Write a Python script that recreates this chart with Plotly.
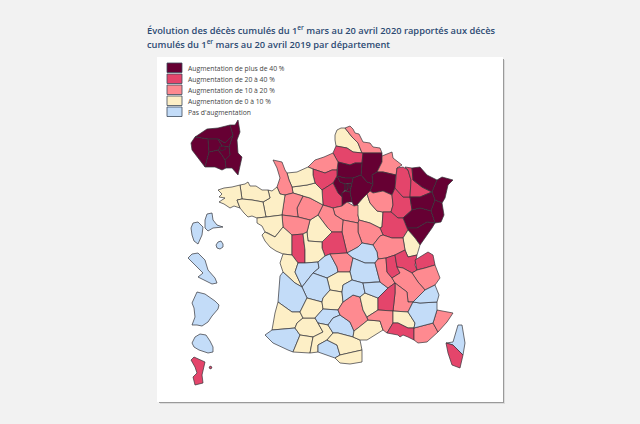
import plotly.graph_objects as go

# classes de la legende
class_labels = [
    "Augmentation de plus de 40 %",
    "Augmentation de 20 à 40 %",
    "Augmentation de 10 à 20 %",
    "Augmentation de 0 à 10 %",
    "Pas d'augmentation",
]
class_colors = ["#660033", "#e4456b", "#fe8a90", "#fdefc6", "#c3dcf8"]

title_lines = [
    "Évolution des décès cumulés du 1<sup>er</sup> mars au 20 avril 2020 rapportés aux décès",
    "cumulés du 1<sup>er</sup> mars au 20 avril 2019 par département",
]

# classe de chaque departement (indice dans class_labels)
dept_class = {
    "Pas-de-Calais": 3, "Nord": 2, "Somme": 1, "Aisne": 0, "Oise": 0, "Ardennes": 2,
    "Marne": 0, "Seine-et-Marne": 0, "Val-d'Oise": 0, "Yvelines": 0, "Essonne": 0,
    "Hauts-de-Seine": 0, "Seine-Saint-Denis": 0, "Val-de-Marne": 0, "Paris": 0,
    "Seine-Maritime": 2, "Eure": 1, "Eure-et-Loir": 1, "Loiret": 2, "Yonne": 3,
    "Aube": 2, "Haute-Marne": 1, "Meuse": 1, "Meurthe-et-Moselle": 1, "Moselle": 0,
    "Bas-Rhin": 0, "Vosges": 0, "Haut-Rhin": 0, "Haute-Saône": 0, "Doubs": 0,
    "Côte-d'Or": 1, "Jura": 3, "Nièvre": 2, "Saône-et-Loire": 2, "Cher": 2,
    "Loir-et-Cher": 2, "Indre": 1, "Indre-et-Loire": 3, "Sarthe": 2, "Orne": 3,
    "Calvados": 3, "Manche": 2, "Mayenne": 2, "Maine-et-Loire": 2,
    "Ille-et-Vilaine": 3, "Côtes-d'Armor": 3, "Finistère": 3, "Morbihan": 3,
    "Loire-Atlantique": 3, "Vendée": 3, "Deux-Sèvres": 1, "Vienne": 3,
    "Charente-Maritime": 3, "Charente": 4, "Haute-Vienne": 4, "Creuse": 2,
    "Allier": 4, "Puy-de-Dôme": 4, "Corrèze": 3, "Dordogne": 4, "Gironde": 4,
    "Landes": 3, "Pyrénées-Atlantiques": 4, "Gers": 3, "Hautes-Pyrénées": 3,
    "Lot-et-Garonne": 3, "Lot": 3, "Tarn-et-Garonne": 4, "Haute-Garonne": 3,
    "Tarn": 4, "Ariège": 4, "Aude": 3, "Pyrénées-Orientales": 3, "Aveyron": 2,
    "Cantal": 4, "Lozère": 3, "Haute-Loire": 4, "Loire": 2, "Rhône": 1, "Ain": 1,
    "Haute-Savoie": 1, "Savoie": 2, "Isère": 2, "Drôme": 2, "Ardèche": 1,
    "Hérault": 3, "Gard": 2, "Vaucluse": 3, "Bouches-du-Rhône": 1, "Var": 2,
    "Alpes-Maritimes": 2, "Alpes-de-Haute-Provence": 4, "Hautes-Alpes": 4,
    "Haute-Corse": 4, "Corse-du-Sud": 1, "Guadeloupe": 4, "Guadeloupe (est)": 4,
    "Guadeloupe (sud)": 4, "Martinique": 4, "Guyane": 4, "La Réunion": 4, "Mayotte": 1,
    "Mayotte (est)": 1, "Zoom Val-d'Oise": 0, "Zoom Seine-et-Marne": 0,
    "Zoom Yvelines": 0, "Zoom Essonne": 0, "Zoom Hauts-de-Seine": 0,
    "Zoom Seine-Saint-Denis": 0, "Zoom Val-de-Marne": 0, "Zoom Paris": 0,
}

# contours
outlines = {
    "Pas-de-Calais": [(337,130),(341,128),(345,128),(352,137),(358,143),(362,153),(353,152),(347,148),(336,146),(335,140),(335,135)],
    "Nord": [(345,128),(350,126),(353,129),(355,133),(359,134),(363,142),(370,143),(373,147),(380,148),(382,153),(363,153),(362,153),(358,143),(352,137)],
    "Somme": [(333,153),(336,146),(347,148),(353,152),(363,153),(362,163),(355,163),(350,165),(338,162)],
    "Aisne": [(362,163),(363,153),(382,153),(382,156),(382,162),(377,172),(372,175),(373,184),(367,182),(361,175)],
    "Oise": [(338,162),(350,165),(355,163),(362,163),(361,175),(353,178),(345,178),(337,176)],
    "Ardennes": [(382,156),(388,154),(392,152),(393,158),(402,165),(397,168),(396,175),(383,172),(377,172),(382,162)],
    "Marne": [(377,172),(383,172),(396,175),(395,188),(392,195),(383,191),(373,193),(370,191),(373,184),(372,175)],
    "Seine-et-Marne": [(361,175),(367,182),(373,184),(370,191),(367,194),(363,198),(357,205),(354,206),(352,202),(350,192),(352,183),(353,178)],
    "Val-d'Oise": [(337,176),(345,178),(353,178),(352,183),(345,184),(340,182)],
    "Yvelines": [(333,183),(337,176),(340,182),(345,184),(345,190),(342,193),(342,197),(338,193),(335,187)],
    "Essonne": [(342,197),(342,193),(345,191),(350,192),(352,202),(347,202),(342,206)],
    "Hauts-de-Seine": [(345,184),(348,184),(348,187),(347,190),(345,190)],
    "Seine-Saint-Denis": [(348,184),(352,183),(351,187),(348,187)],
    "Val-de-Marne": [(347,190),(348,187),(351,187),(350,192),(345,191)],
    "Paris": [(347,186),(350,186),(350,188),(347,188)],
    "Seine-Maritime": [(308,167),(312,163),(315,160),(324,157),(333,153),(338,162),(337,170),(332,170),(325,173),(313,169)],
    "Eure": [(313,169),(325,173),(332,170),(337,170),(337,176),(333,183),(330,185),(322,190),(315,183),(313,175)],
    "Eure-et-Loir": [(322,190),(330,185),(333,183),(335,187),(338,193),(342,197),(342,206),(333,208),(323,205)],
    "Loiret": [(333,208),(342,206),(347,202),(354,206),(358,205),(362,207),(358,215),(359,220),(358,223),(343,220),(335,215)],
    "Yonne": [(358,205),(357,205),(363,198),(367,194),(370,203),(377,211),(383,212),(382,227),(380,228),(370,223),(359,220),(358,215)],
    "Aube": [(367,194),(370,191),(373,193),(383,191),(392,195),(393,205),(391,212),(383,212),(377,211),(370,203)],
    "Haute-Marne": [(392,195),(395,188),(403,197),(410,197),(412,210),(403,218),(398,218),(391,212),(393,205)],
    "Meuse": [(397,168),(403,167),(408,170),(411,180),(410,197),(403,197),(395,188),(396,175)],
    "Meurthe-et-Moselle": [(405,167),(412,168),(413,180),(422,187),(432,192),(420,197),(410,197),(411,180),(408,170)],
    "Moselle": [(412,168),(420,167),(427,175),(437,180),(432,192),(422,187),(413,180)],
    "Bas-Rhin": [(437,180),(442,177),(453,180),(448,185),(445,198),(442,203),(435,200),(432,192)],
    "Vosges": [(410,197),(420,197),(432,192),(435,200),(431,211),(420,208),(412,210)],
    "Haut-Rhin": [(435,200),(442,203),(444,215),(441,222),(435,223),(431,211)],
    "Haute-Saône": [(412,210),(420,208),(431,211),(435,223),(427,222),(417,228),(407,228),(403,218)],
    "Doubs": [(435,223),(432,228),(420,245),(415,238),(408,230),(407,228),(417,228),(427,222)],
    "Côte-d'Or": [(383,212),(391,212),(398,218),(403,218),(407,228),(408,230),(403,238),(392,238),(383,235),(380,228),(382,227)],
    "Jura": [(408,230),(415,238),(420,245),(417,255),(408,257),(405,250),(403,238)],
    "Nièvre": [(359,220),(370,223),(380,228),(383,235),(380,236),(373,245),(362,243),(358,232),(358,223)],
    "Saône-et-Loire": [(373,245),(380,236),(383,235),(392,238),(403,238),(405,250),(395,255),(386,258),(378,259),(377,252)],
    "Cher": [(343,220),(358,223),(358,232),(362,243),(358,247),(347,253),(345,245),(342,232)],
    "Loir-et-Cher": [(318,215),(323,205),(333,208),(335,215),(343,220),(342,232),(332,232),(327,227)],
    "Indre": [(322,242),(332,232),(342,232),(345,245),(347,253),(330,254),(325,256),(322,248)],
    "Indre-et-Loire": [(307,232),(310,220),(318,215),(327,227),(332,232),(322,242),(308,241)],
    "Sarthe": [(297,208),(303,196),(310,198),(323,205),(318,215),(310,220),(298,217)],
    "Orne": [(292,187),(307,185),(315,183),(322,190),(323,205),(310,198),(303,196),(293,193)],
    "Calvados": [(287,173),(297,172),(308,167),(313,169),(313,175),(315,183),(307,185),(292,187),(289,180)],
    "Manche": [(273,160),(282,162),(285,170),(287,173),(289,180),(292,187),(293,193),(285,195),(280,194),(277,187),(280,178),(277,168)],
    "Mayenne": [(285,195),(293,193),(303,196),(297,208),(298,217),(282,215),(283,207)],
    "Maine-et-Loire": [(282,215),(298,217),(310,220),(307,232),(303,234),(292,235),(283,227)],
    "Ille-et-Vilaine": [(268,190),(272,191),(277,187),(280,194),(285,195),(283,207),(282,215),(266,217),(263,202),(270,198)],
    "Côtes-d'Armor": [(240,185),(245,184),(248,182),(250,186),(256,186),(262,190),(268,190),(270,198),(263,202),(252,200),(242,199)],
    "Finistère": [(218,190),(224,188),(232,187),(240,185),(242,199),(237,200),(240,208),(234,206),(230,208),(224,204),(219,202),(223,199),(225,198),(219,197),(222,194)],
    "Morbihan": [(237,200),(242,199),(252,200),(263,202),(266,217),(257,218),(252,216),(248,217),(244,213),(240,208)],
    "Loire-Atlantique": [(257,223),(257,218),(266,217),(282,215),(283,227),(275,237),(268,233),(265,232),(262,226)],
    "Vendée": [(262,235),(265,232),(275,237),(283,227),(292,235),(292,255),(283,254),(276,251),(270,247),(265,241)],
    "Deux-Sèvres": [(292,235),(303,234),(305,250),(305,263),(298,263),(292,255)],
    "Vienne": [(303,234),(307,232),(308,241),(322,242),(322,248),(325,256),(318,262),(305,263),(305,250)],
    "Charente-Maritime": [(280,263),(283,254),(292,255),(298,263),(295,272),(302,287),(295,283),(283,272)],
    "Charente": [(298,263),(305,263),(318,262),(319,268),(313,273),(302,287),(295,272)],
    "Haute-Vienne": [(318,262),(325,256),(330,254),(337,267),(338,272),(327,278),(313,273),(319,268)],
    "Creuse": [(330,254),(347,253),(353,258),(350,272),(338,272),(337,267)],
    "Allier": [(347,253),(358,247),(362,243),(373,245),(377,252),(378,259),(375,263),(365,263),(353,258)],
    "Puy-de-Dôme": [(353,258),(365,263),(375,263),(377,270),(380,282),(375,282),(363,283),(352,280),(350,272)],
    "Corrèze": [(327,278),(338,272),(350,272),(352,280),(343,285),(342,292),(330,290)],
    "Dordogne": [(302,287),(313,273),(327,278),(330,290),(323,298),(322,302),(307,298)],
    "Gironde": [(280,276),(283,272),(295,283),(302,287),(307,298),(300,312),(292,312),(278,302)],
    "Landes": [(278,302),(292,312),(300,312),(303,318),(297,323),(295,328),(272,330),(275,313)],
    "Pyrénées-Atlantiques": [(265,335),(272,330),(295,328),(300,335),(293,352),(288,350),(273,343)],
    "Gers": [(295,328),(297,323),(303,318),(315,318),(323,332),(313,337),(300,335)],
    "Hautes-Pyrénées": [(300,335),(313,337),(310,353),(293,352)],
    "Lot-et-Garonne": [(307,298),(322,302),(323,309),(315,318),(303,318),(300,312)],
    "Lot": [(330,290),(342,292),(343,302),(338,310),(323,309),(322,302),(323,298)],
    "Tarn-et-Garonne": [(323,309),(338,310),(340,315),(333,318),(328,325),(318,323),(315,318)],
    "Haute-Garonne": [(318,323),(328,325),(333,333),(327,340),(318,345),(318,352),(310,353),(313,337),(323,332)],
    "Tarn": [(333,318),(340,315),(350,322),(354,331),(353,337),(338,333),(333,333),(328,325)],
    "Ariège": [(327,340),(337,345),(340,355),(335,358),(318,352),(318,345)],
    "Aude": [(333,333),(338,333),(353,337),(360,340),(362,350),(353,352),(340,355),(337,345),(327,340)],
    "Pyrénées-Orientales": [(335,358),(340,355),(353,352),(362,350),(362,362),(350,364),(340,363)],
    "Aveyron": [(338,310),(343,302),(353,295),(360,297),(363,310),(367,317),(368,320),(358,328),(354,331),(350,322),(340,315)],
    "Cantal": [(343,285),(352,280),(363,283),(365,293),(360,297),(353,295),(343,302),(342,292)],
    "Lozère": [(360,297),(365,293),(378,298),(378,310),(367,317),(363,310)],
    "Haute-Loire": [(363,283),(375,282),(380,282),(388,288),(378,298),(365,293)],
    "Loire": [(378,259),(386,258),(387,272),(392,278),(395,283),(388,288),(380,282),(377,270),(375,263)],
    "Rhône": [(386,258),(395,255),(397,267),(400,273),(392,278),(387,272)],
    "Ain": [(395,255),(405,250),(408,257),(417,255),(415,265),(417,270),(412,273),(403,268),(397,267)],
    "Haute-Savoie": [(415,260),(428,252),(433,255),(435,265),(425,268),(417,270)],
    "Savoie": [(412,273),(417,270),(425,268),(435,265),(440,278),(435,285),(425,290),(418,282)],
    "Isère": [(400,273),(397,267),(403,268),(412,273),(418,282),(425,290),(413,302),(408,302),(407,292),(395,283),(392,278)],
    "Drôme": [(395,283),(407,292),(408,302),(413,302),(408,312),(393,311),(395,293)],
    "Ardèche": [(378,298),(388,288),(395,283),(395,293),(393,311),(378,310)],
    "Hérault": [(358,328),(368,320),(380,321),(383,330),(367,340),(360,340),(353,337),(354,331)],
    "Gard": [(367,317),(378,310),(393,311),(393,323),(387,333),(383,330),(380,321),(368,320)],
    "Vaucluse": [(393,311),(408,312),(415,323),(414,328),(408,328),(398,323),(393,323)],
    "Bouches-du-Rhône": [(387,333),(393,323),(398,323),(408,328),(414,328),(414,340),(408,337),(403,335),(400,337),(398,335)],
    "Var": [(414,328),(433,323),(438,332),(427,342),(418,343),(414,340)],
    "Alpes-Maritimes": [(437,310),(453,313),(447,322),(438,332),(433,323)],
    "Alpes-de-Haute-Provence": [(408,312),(413,302),(420,303),(437,302),(437,310),(433,323),(414,328),(415,323)],
    "Hautes-Alpes": [(413,302),(425,290),(435,285),(439,295),(437,302),(420,303)],
    "Haute-Corse": [(446,343),(453,342),(458,325),(462,325),(465,343),(463,355),(453,345)],
    "Corse-du-Sud": [(446,343),(453,345),(463,355),(460,368),(452,365),(448,353)],
    "Guadeloupe": [(191,228),(193,223),(198,222),(203,227),(202,235),(198,244),(194,241),(192,235)],
    "Guadeloupe (est)": [(205,228),(205,220),(207,214),(212,213),(213,220),(217,225),(223,227),(213,228),(208,231)],
    "Guadeloupe (sud)": [(216,245),(218,242),(221,241),(223,244),(223,247),(220,249),(217,248)],
    "Martinique": [(188,258),(192,254),(198,253),(205,260),(208,270),(215,278),(217,283),(212,284),(200,278),(198,277),(203,273),(197,267),(192,262)],
    "Guyane": [(197,292),(205,294),(215,301),(219,305),(218,309),(212,316),(208,322),(202,326),(197,325),(192,325),(195,317),(194,308),(192,303)],
    "La Réunion": [(192,343),(195,337),(200,334),(206,335),(210,341),(213,347),(213,352),(208,353),(199,350),(194,347)],
    "Mayotte": [(191,360),(194,357),(205,362),(202,375),(203,383),(195,385),(193,377),(197,373),(195,367)],
    "Mayotte (est)": [(209,367),(211,366),(212,368),(210,369)],
    "Zoom Val-d'Oise": [(195,137),(207,129),(218,128),(230,125),(233,135),(225,143),(218,139),(208,139)],
    "Zoom Seine-et-Marne": [(230,125),(235,125),(238,120),(240,132),(237,140),(238,153),(242,157),(238,175),(232,168),(226,168),(225,160),(230,155),(229,147),(233,135)],
    "Zoom Yvelines": [(191,143),(195,137),(208,139),(209,152),(205,167),(192,150)],
    "Zoom Essonne": [(209,152),(218,150),(222,155),(225,160),(226,168),(222,170),(215,167),(205,167)],
    "Zoom Hauts-de-Seine": [(208,139),(218,139),(222,146),(218,150),(209,152)],
    "Zoom Seine-Saint-Denis": [(218,139),(225,143),(233,135),(229,147),(222,146)],
    "Zoom Val-de-Marne": [(218,150),(222,146),(229,147),(230,155),(225,160),(222,155)],
    "Zoom Paris": [(219,147),(224,146),(226,149),(221,151)],
}

fig = go.Figure()

for name, pts in outlines.items():
    xs = [p[0] for p in pts] + [pts[0][0]]
    ys = [p[1] for p in pts] + [pts[0][1]]
    fig.add_trace(go.Scatter(
        x=xs, y=ys, mode="lines", fill="toself", name=name,
        fillcolor=class_colors[dept_class[name]],
        line=dict(color="#33333a", width=0.7),
        hoverinfo="name", showlegend=False,
    ))

# ombre et carte blanche
shapes = [
    dict(type="rect", x0=160, y0=60, x1=505, y1=404, fillcolor="#dcdcdc", line_width=0, layer="below"),
    dict(type="rect", x0=159, y0=59, x1=504, y1=403, fillcolor="#9a9a9a", line_width=0, layer="below"),
    dict(type="rect", x0=157, y0=57, x1=503, y1=402, fillcolor="white", line_width=0, layer="below"),
]
annotations = []

# legende dessinee a la main pour avoir les grands carres
for i, (label, color) in enumerate(zip(class_labels, class_colors)):
    top = 63 + i * 11
    shapes.append(dict(type="rect", x0=167, x1=182, y0=top, y1=top + 9.5,
                       fillcolor=color, line=dict(color="#3c4a5a", width=0.8)))
    annotations.append(dict(x=186, y=top + 5, text=label, showarrow=False, xanchor="left",
                            font=dict(family="Open Sans", size=6.8, color="#444444")))

for i, line in enumerate(title_lines):
    annotations.append(dict(x=145, y=29.5 + i * 14, text=line, showarrow=False, xanchor="left",
                            font=dict(family="Open Sans", size=9.3, color="#2c4a72", weight=600)))

fig.update_layout(
    width=640, height=424,
    margin=dict(l=0, r=0, t=0, b=0),
    paper_bgcolor="#f2f2f2", plot_bgcolor="#f2f2f2",
    shapes=shapes, annotations=annotations, showlegend=False,
    xaxis=dict(range=[0, 640], visible=False),
    yaxis=dict(range=[424, 0], visible=False),
)

fig.write_html("out.html", config={"displayModeBar": False},
               post_script="document.body.style.margin='0';")
